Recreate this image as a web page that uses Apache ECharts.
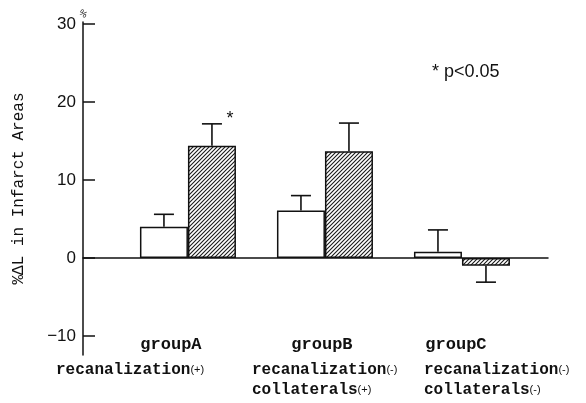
<!DOCTYPE html>
<html>
<head>
<meta charset="utf-8">
<script src="https://cdn.jsdelivr.net/npm/echarts@6/dist/echarts.min.js"></script>
<style>html,body{margin:0;padding:0;background:#fff;}#c{width:586px;height:403px;}</style>
</head>
<body>
<div id="c"></div>
<script>
// ---- data ----
const categories = ['groupA', 'groupB', 'groupC'];
const groupPos = [0, 1, 2];
const openValues = [4.0, 6.1, 0.8];        // white bars
const openErrEnd = [5.6, 8.0, 3.6];        // end of error bar
const hatchValues = [14.4, 13.7, -1.0];    // hatched bars
const hatchErrEnd = [17.2, 17.3, -3.1];
const hatchMarks = ['*', '', ''];
const yTicks = [-10, 0, 10, 20, 30];
const subLabelsA = [['recanalization', '(+)']];
const subLabelsB = [['recanalization', '(-)'], ['collaterals', '(+)']];
const subLabelsC = [['recanalization', '(-)'], ['collaterals', '(-)']];
const yName = '%ΔL in Infarct Areas';
const noteText = '* p<0.05';

// ---- styles ----
const BAR_W = 48;
const MONO = 'Liberation Mono, DejaVu Sans Mono, monospace';
const NARROW = 'Liberation Sans Narrow, Liberation Sans, sans-serif';

function hatchCanvas() {
  const s = 4;
  const c = document.createElement('canvas');
  c.width = s; c.height = s;
  const g = c.getContext('2d');
  g.fillStyle = '#fff'; g.fillRect(0, 0, s, s);
  g.strokeStyle = '#1a1a1a'; g.lineWidth = 1.1;
  g.beginPath();
  g.moveTo(-1, s + 1); g.lineTo(s + 1, -1);
  g.moveTo(-1, 1); g.lineTo(1, -1);
  g.moveTo(s - 1, s + 1); g.lineTo(s + 1, s - 1);
  g.stroke();
  return c;
}

const chart = echarts.init(document.getElementById('c'), null, {renderer: 'canvas'});

function errRender(side, marks) {
  return function (params, api) {
    const x = api.value(0);
    const p0 = api.coord([x, api.value(1)]);
    const p1 = api.coord([x, api.value(2)]);
    const px = p0[0] + side * BAR_W / 2;
    const children = [
      {type: 'line', shape: {x1: px, y1: p0[1], x2: px, y2: p1[1]}, style: {stroke: '#111', lineWidth: 1.6}},
      {type: 'line', shape: {x1: px - 10, y1: p1[1], x2: px + 10, y2: p1[1]}, style: {stroke: '#111', lineWidth: 1.6}}
    ];
    const m = marks ? marks[params.dataIndex] : '';
    if (m) {
      children.push({type: 'text', style: {text: m, x: px + 18, y: p1[1] - 5, fontSize: 18, fill: '#111', align: 'center', verticalAlign: 'middle', fontFamily: NARROW}});
    }
    return {type: 'group', children};
  };
}

function subText(lines, left, top) {
  return {
    type: 'text', left: left, top: top,
    style: {
      text: lines.map(l => '{m|' + l[0] + '}{s|' + l[1] + '}').join('\n'),
      rich: {
        m: {fontFamily: MONO, fontSize: 16, fontWeight: 'bold', fill: '#111', lineHeight: 20},
        s: {fontFamily: NARROW, fontSize: 11, fill: '#111', lineHeight: 20}
      }
    }
  };
}

const groupPad = [[0, 34, 0, 0], [0, 6, 0, 0], [0, 12, 0, 0]];

chart.setOption({
  animation: false,
  backgroundColor: '#fff',
  grid: {left: 83, right: 38, top: 22, bottom: 48, containLabel: false, outerBoundsMode: 'none'},
  xAxis: {
    type: 'value', min: -0.766, max: 2.628,
    splitLine: {show: false},
    axisTick: {show: false},
    axisLine: {show: true, onZero: true, lineStyle: {color: '#111', width: 1.5}},
    axisLabel: {
      customValues: groupPos,
      margin: -19,
      formatter: function (v) {
        const i = Math.round(v);
        return '{g' + i + '|' + categories[i] + '}';
      },
      rich: {
        g0: {fontFamily: MONO, fontSize: 17, fontWeight: 'bold', color: '#111', padding: groupPad[0]},
        g1: {fontFamily: MONO, fontSize: 17, fontWeight: 'bold', color: '#111', padding: groupPad[1]},
        g2: {fontFamily: MONO, fontSize: 17, fontWeight: 'bold', color: '#111', padding: groupPad[2]}
      }
    }
  },
  yAxis: {
    type: 'value', min: -12.44, max: 30.26,
    splitLine: {show: false},
    axisLine: {show: true, onZero: false, lineStyle: {color: '#111', width: 1.5}},
    axisTick: {show: true, inside: true, length: 12, customValues: yTicks, lineStyle: {color: '#111', width: 1.5}},
    axisLabel: {
      customValues: yTicks, margin: 7, fontSize: 17, color: '#111', fontFamily: NARROW,
      formatter: v => (v < 0 ? '\u2212' + Math.abs(v) : String(v))
    },
    name: yName, nameLocation: 'middle', nameGap: 56, nameRotate: 90,
    nameTextStyle: {fontFamily: MONO, fontSize: 16, color: '#111'}
  },
  series: [
    {
      type: 'bar', name: 'open', barWidth: BAR_W, barGap: '0%',
      data: groupPos.map((x, i) => [x, openValues[i]]),
      itemStyle: {color: '#fff', borderColor: '#111', borderWidth: 1.5}
    },
    {
      type: 'bar', name: 'hatched', barWidth: BAR_W, barGap: '0%',
      data: groupPos.map((x, i) => [x, hatchValues[i]]),
      itemStyle: {color: {image: hatchCanvas(), repeat: 'repeat'}, borderColor: '#111', borderWidth: 1.5}
    },
    {
      type: 'custom', renderItem: errRender(-1, null), z: 3,
      data: groupPos.map((x, i) => [x, openValues[i], openErrEnd[i]])
    },
    {
      type: 'custom', renderItem: errRender(1, hatchMarks), z: 3,
      data: groupPos.map((x, i) => [x, hatchValues[i], hatchErrEnd[i]])
    }
  ],
  graphic: [
    {type: 'text', left: 432, top: 63, style: {text: noteText, fontFamily: NARROW, fontSize: 18, fill: '#111'}},
    {type: 'text', left: 77, top: 8, rotation: -0.6, style: {text: '%', fontFamily: NARROW, fontSize: 9, fill: '#111'}},
    subText(subLabelsA, 56, 362),
    subText(subLabelsB, 252, 362),
    subText(subLabelsC, 424, 362)
  ]
});
</script>
</body>
</html>
